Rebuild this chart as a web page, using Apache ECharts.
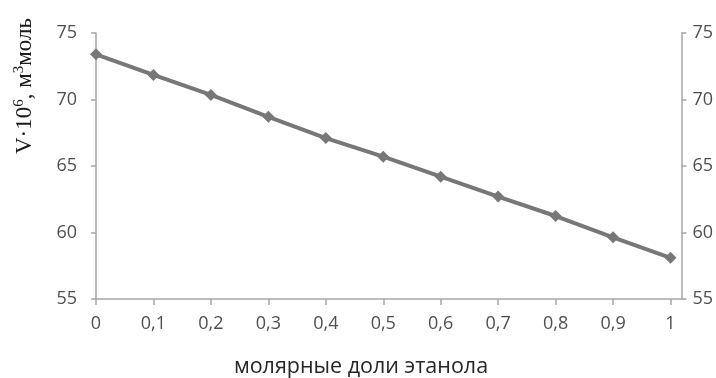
<!DOCTYPE html>
<html>
<head>
<meta charset="utf-8">
<script src="https://cdn.jsdelivr.net/npm/echarts@6/dist/echarts.min.js"></script>
<style>
  html, body { margin: 0; padding: 0; background: #fff; }
  #chart { width: 716px; height: 378px; }
</style>
</head>
<body>
<div id="chart"></div>
<script>
// Mole fraction of ethanol
const fractions = [0, 0.1, 0.2, 0.3, 0.4, 0.5, 0.6, 0.7, 0.8, 0.9, 1];
// Molar volume V·10^6, m^3/mol
const volumes = [73.4, 71.85, 70.34, 68.7, 67.1, 65.7, 64.2, 62.7, 61.24, 59.64, 58.1];
// Y tick values
const yTicks = [55, 60, 65, 70, 75];

const axisGrey = '#a6a6a6';
const labelGrey = '#4f4f4f';
const lineGrey = '#777777';

const chart = echarts.init(document.getElementById('chart'));

const fmtX = v => {
  const r = Math.round(v * 10) / 10;
  if (Math.abs(r - v) > 1e-6 || r > 1) return '';
  return String(r).replace('.', ',');
};

const yAxisBase = (pos, margin) => ({
  type: 'value',
  position: pos,
  min: yTicks[0],
  max: yTicks[yTicks.length - 1],
  interval: 5,
  axisLine: { show: true, lineStyle: { color: axisGrey, width: 1.5 } },
  axisTick: { show: true, length: 5, lineStyle: { color: axisGrey, width: 1.5 } },
  axisLabel: { color: labelGrey, fontFamily: 'Open Sans', fontSize: 18, margin: margin },
  splitLine: { show: false }
});

chart.setOption({
  animation: false,
  grid: { left: 96, right: 34, top: 33, bottom: 79 },
  xAxis: {
    type: 'value',
    min: 0,
    max: 1.019,
    interval: 0.1,
    axisLine: { show: true, onZero: false, lineStyle: { color: axisGrey, width: 1.5 } },
    axisTick: { show: true, length: 6, lineStyle: { color: axisGrey, width: 1.5 } },
    axisLabel: { color: labelGrey, fontFamily: 'Open Sans', fontSize: 18, margin: 16, formatter: fmtX, showMaxLabel: false },
    splitLine: { show: false }
  },
  yAxis: [yAxisBase('left', 19), yAxisBase('right', 11)],
  series: [{
    type: 'line',
    data: fractions.map((f, i) => [f, volumes[i]]),
    symbol: 'diamond',
    symbolSize: 12,
    lineStyle: { color: lineGrey, width: 4 },
    itemStyle: { color: lineGrey },
    z: 3
  }],
  graphic: [
    {
      type: 'text',
      x: 24,
      y: 86,
      rotation: Math.PI / 2,
      style: {
        text: '{n|V·10}{s|6}{n|, м}{s|3}{n|моль}',
        align: 'center',
        verticalAlign: 'middle',
        fill: '#1a1a1a',
        rich: {
          n: { fontFamily: 'Liberation Serif', fontSize: 23, fill: '#1a1a1a', verticalAlign: 'bottom' },
          s: { fontFamily: 'Liberation Serif', fontSize: 15, fill: '#1a1a1a', verticalAlign: 'top', padding: [0, 0, 10, 0] }
        }
      }
    },
    {
      type: 'text',
      x: 361,
      y: 367,
      style: {
        text: 'молярные доли этанола',
        align: 'center',
        verticalAlign: 'middle',
        fontFamily: 'Open Sans',
        fontSize: 21.5,
        fill: '#262626'
      }
    }
  ]
});
</script>
</body>
</html>
